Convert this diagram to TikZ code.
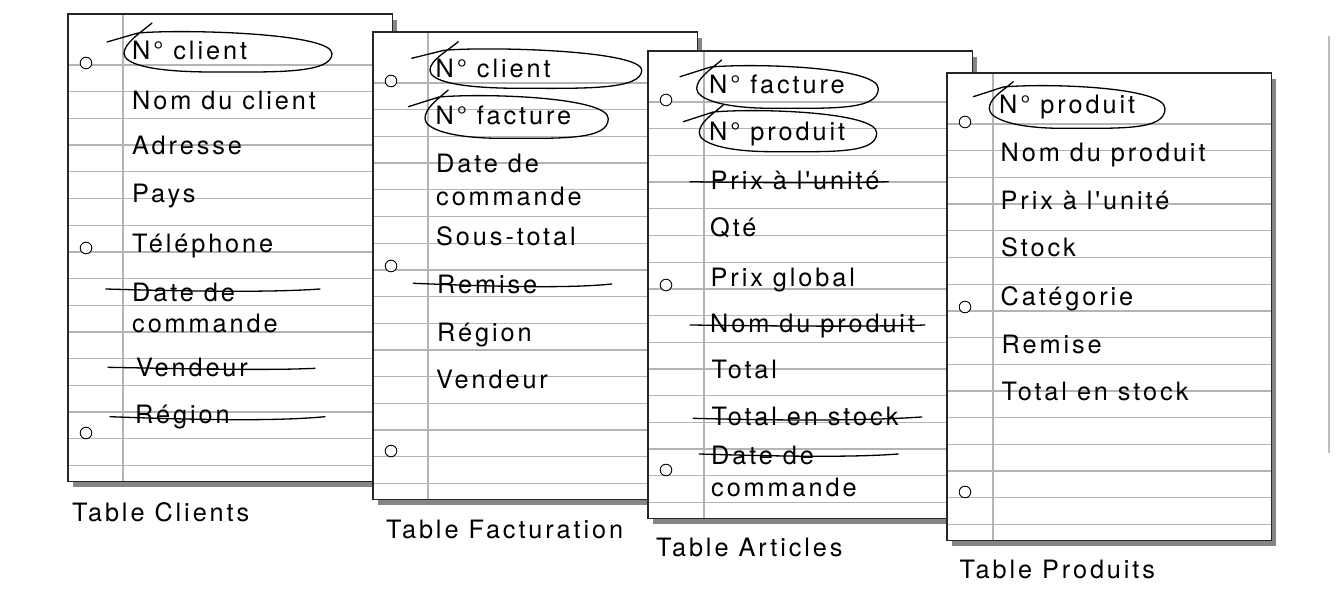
\documentclass[tikz,border=0pt]{standalone}
\usepackage{fontspec}
\setmainfont{TeX Gyre Heros}[LetterSpace=11.5,Ligatures=TeXOff]
\definecolor{rulegray}{HTML}{B4B4B4}
\definecolor{shadowgray}{HTML}{858585}
\definecolor{edgegray}{HTML}{BDBDBD}
\tikzset{
  txt/.style={anchor=base west, inner sep=0pt, font=\fontsize{25.3}{30}\selectfont},
  ruleline/.style={draw=rulegray, line width=1.3pt},
  sheetedge/.style={draw=black!85, line width=1.2pt},
  shadowfill/.style={fill=shadowgray},
  holemark/.style={draw=black, fill=white, line width=0.9pt},
  pen/.style={draw=black, line width=1.3pt, line cap=round, line join=round},
}
% left, top, margin offset, name
\newcommand\drawsheet[4]{%
  \fill[shadowfill] ({#1+5},{#2+6}) rectangle ({#1+329},{#2+473});
  \node[fill=white, inner sep=0pt, minimum width=324pt, minimum height=467pt, anchor=north west] (#4) at (#1,#2) {};
  \foreach \k in {0,...,15} {\draw[ruleline] (#1,{#2+51+\k*26.7}) -- ({#1+324},{#2+51+\k*26.7});}
  \draw[ruleline] ({#1+#3},#2) -- ({#1+#3},{#2+467});
  \draw[sheetedge] (#4.north west) rectangle (#4.south east);
  \foreach \h in {49,234,419} {\draw[holemark] ({#1+18},{#2+\h}) circle[radius=5.8pt];}
}
% Sx Sy L R T B Ex Ey
\newcommand\handloop[8]{%
  \draw[pen] (#1,#2) -- ({#3+14},{#5+2})
    .. controls ({#3+60},{#5-2}) and (#4,{#5+2}) .. (#4,{(#5+#6)/2+2})
    .. controls (#4,{#6+2}) and ({(#3+#4)/2+45},#6) .. ({(#3+#4)/2-15},#6)
    .. controls ({#3+25},#6) and (#3,{(#5+#6)/2+12}) .. (#3,{(#5+#6)/2+2})
    .. controls (#3,{(#5+#6)/2-8}) and ({#7-12},{#8+10}) .. (#7,#8);
}
% x1 y1 x2 y2 dip
\newcommand\strikeout[5]{%
  \draw[pen] (#1,#2) .. controls ({#1+0.5*(#3-#1)},{#2+#5}) and ({#1+0.8*(#3-#1)},{#4+#5}) .. (#3,#4);
}
\begin{document}
\begin{tikzpicture}[x=1pt,y=-1pt]
\useasboundingbox (0,0) rectangle (1342,591);

% ---------- Table Clients ----------
\drawsheet{68}{14}{55}{clients}
\node[txt] (c1) at (132,60) {N° client};
\node[txt] (c2) at (132,110) {Nom du client};
\node[txt] (c3) at (132,155) {Adresse};
\node[txt] (c4) at (132,203) {Pays};
\node[txt] (c5) at (132,252) {Téléphone};
\node[txt] (c6) at (132,301.5) {Date de};
\node[txt] (c7) at (132,332.5) {commande};
\node[txt] (c8) at (136,376.5) {Vendeur};
\node[txt] (c9) at (135,423) {Région};
\node[txt] (cl) at (72,521.5) {Table Clients};
\handloop{107}{42}{124}{332}{31}{72}{152}{23}
\strikeout{105.7}{289}{320}{289}{3}
\strikeout{108}{367.3}{315}{368.3}{2}
\strikeout{110}{416.7}{325}{416.7}{4}

% ---------- Table Facturation ----------
\drawsheet{373}{32}{55}{factu}
\node[txt] (f1) at (435.5,77.5) {N° client};
\node[txt] (f2) at (435.5,125) {N° facture};
\node[txt] (f3) at (436,172.5) {Date de};
\node[txt] (f4) at (436,205) {commande};
\node[txt] (f5) at (436,245) {Sous-total};
\node[txt] (f6) at (437,293.5) {Remise};
\node[txt] (f7) at (437,341.5) {Région};
\node[txt] (f8) at (436,388.5) {Vendeur};
\node[txt] (fl) at (386,538.5) {Table Facturation};
\handloop{411.7}{58.3}{430}{641.7}{48.3}{88.3}{458.3}{41.7}
\handloop{408.3}{106.7}{425}{608.3}{95}{138.3}{448.3}{90}
\strikeout{413.3}{283.3}{611.7}{284}{4}

% ---------- Table Articles ----------
\drawsheet{648}{51}{56}{articles}
\node[txt] (a1) at (709,94) {N° facture};
\node[txt] (a2) at (709,140.5) {N° produit};
\node[txt] (a3) at (710.5,189.5) {Prix à l'unité};
\node[txt] (a4) at (710,236.5) {Qté};
\node[txt] (a5) at (710.5,286) {Prix global};
\node[txt] (a6) at (710,332.5) {Nom du produit};
\node[txt] (a7) at (711.5,378.5) {Total};
\node[txt] (a8) at (711.5,425) {Total en stock};
\node[txt] (a9) at (711,464) {Date de};
\node[txt] (a10) at (711,496.5) {commande};
\node[txt] (al) at (656,556.5) {Table Articles};
\handloop{680}{76.7}{696.7}{878.3}{65}{108.3}{721.7}{60}
\handloop{683.3}{121.7}{699.3}{876.7}{110}{151.7}{723.3}{105}
\strikeout{690}{181.7}{888.3}{181.7}{1.5}
\strikeout{690}{325}{925}{325}{1.5}
\strikeout{693.3}{418.3}{921.7}{417}{3}
\strikeout{699.3}{454}{898.3}{454}{3}

% ---------- Table Produits ----------
\drawsheet{947}{73}{46}{produits}
\node[txt] (p1) at (999,114) {N° produit};
\node[txt] (p2) at (1000.5,161.5) {Nom du produit};
\node[txt] (p3) at (1000.5,209.5) {Prix à l'unité};
\node[txt] (p4) at (1001,256.5) {Stock};
\node[txt] (p5) at (1000.5,305) {Catégorie};
\node[txt] (p6) at (1001.5,353.5) {Remise};
\node[txt] (p7) at (1001.5,400.5) {Total en stock};
\node[txt] (pl) at (959.5,578.5) {Table Produits};
\handloop{973.3}{96.7}{989.3}{1165}{85}{128.3}{1013.3}{81.7}

% right edge line
\coordinate (edgetop) at (1329,36);
\coordinate (edgebot) at (1329,453);
\draw[draw=edgegray, line width=2pt] (edgetop) -- (edgebot);
\end{tikzpicture}
\end{document}
